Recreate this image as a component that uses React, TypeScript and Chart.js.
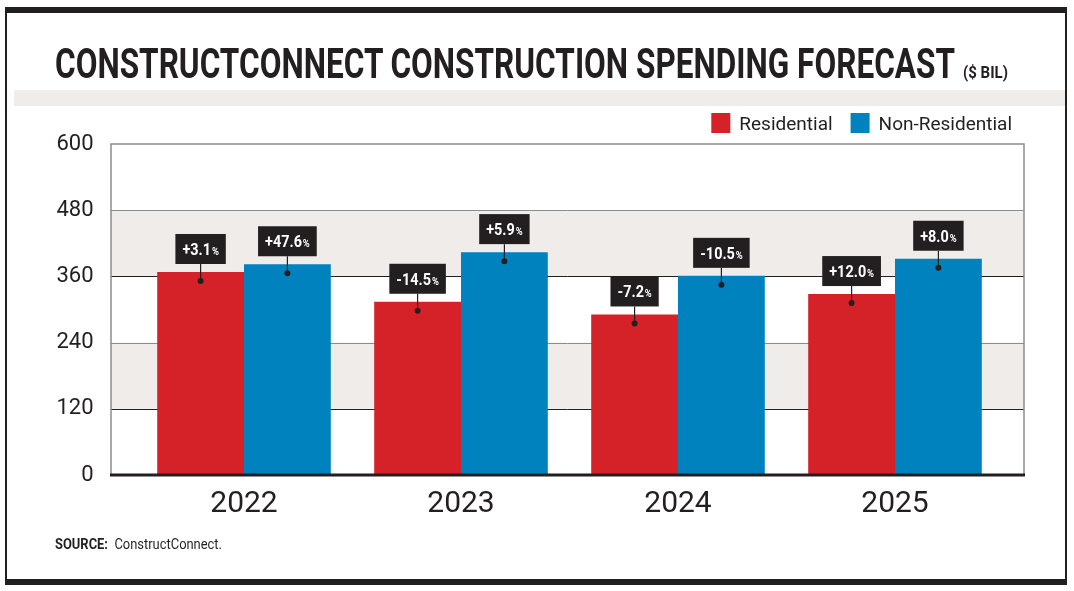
import React, { useEffect, useLayoutEffect, useRef } from "react";
import { Chart, registerables } from "chart.js";

Chart.register(...registerables);

// ---------- data ----------
const years = ["2022", "2023", "2024", "2025"];
const residential = [368, 314, 291, 328];
const nonResidential = [382, 404, 361, 392];
const residentialChange = ["+3.1", "-14.5", "-7.2", "+12.0"];
const nonResidentialChange = ["+47.6", "+5.9", "-10.5", "+8.0"];
const yTickValues = [0, 120, 240, 360, 480, 600];
const shadedBands: [number, number][] = [
  [360, 480],
  [120, 240],
];
const darkLines = [360, 120];
const lightLines = [480, 240];

const TITLE = "CONSTRUCTCONNECT CONSTRUCTION SPENDING FORECAST";
const UNIT = "($ BIL)";

// ---------- style ----------
const INK = "#231f20";
const RED = "#d52229";
const BLUE = "#0082be";
const BAND = "#efecea";
const FONT = "Roboto";

function FitText(props: {
  left: number;
  baseline: number;
  width: number;
  size: number;
  weight?: number;
  children: React.ReactNode;
}) {
  const ref = useRef<HTMLSpanElement>(null);
  useLayoutEffect(() => {
    const fit = () => {
      const el = ref.current;
      if (!el) return;
      el.style.transform = "none";
      const w = el.getBoundingClientRect().width;
      if (w > 0) el.style.transform = `scaleX(${props.width / w})`;
    };
    fit();
    const f: any = (document as any).fonts;
    if (f && f.ready) f.ready.then(fit);
  }, [props.width]);
  return (
    <span
      ref={ref}
      style={{
        position: "absolute",
        left: props.left,
        top: props.baseline - 0.842 * props.size,
        fontFamily: FONT,
        fontSize: props.size,
        fontWeight: props.weight ?? 400,
        lineHeight: `${props.size}px`,
        whiteSpace: "nowrap",
        transformOrigin: "left top",
        color: INK,
        display: "inline-block",
      }}
    >
      {props.children}
    </span>
  );
}

const frameLeftOffset = 24.5;
const frameRightOffset = 20.5;

const backgroundPlugin = {
  id: "bgBands",
  beforeDatasetsDraw(chart: any) {
    const { ctx, chartArea, scales } = chart;
    const y = scales.y;
    const L = chartArea.left - frameLeftOffset;
    const R = chartArea.right + frameRightOffset;
    ctx.save();
    ctx.fillStyle = BAND;
    shadedBands.forEach(([a, b]) => {
      const y1 = y.getPixelForValue(b);
      const y2 = y.getPixelForValue(a);
      ctx.fillRect(L, y1, R - L, y2 - y1);
    });
    ctx.lineWidth = 1;
    ctx.strokeStyle = "#8c8c8c";
    lightLines.forEach((v) => {
      const p = Math.round(y.getPixelForValue(v)) + 0.5;
      ctx.beginPath();
      ctx.moveTo(L, p);
      ctx.lineTo(R, p);
      ctx.stroke();
    });
    ctx.strokeStyle = INK;
    darkLines.forEach((v) => {
      const p = Math.round(y.getPixelForValue(v)) + 0.5;
      ctx.beginPath();
      ctx.moveTo(L, p);
      ctx.lineTo(R, p);
      ctx.stroke();
    });
    // frame
    ctx.strokeStyle = "#8c8c8c";
    ctx.lineWidth = 1.5;
    const top = y.getPixelForValue(600);
    const bot = y.getPixelForValue(0);
    ctx.strokeRect(L, top, R - L, bot - top);
    ctx.restore();
  },
  afterDatasetsDraw(chart: any) {
    const { ctx, chartArea, scales } = chart;
    const y = scales.y;
    const L = chartArea.left - frameLeftOffset;
    const R = chartArea.right + frameRightOffset;
    ctx.save();
    ctx.strokeStyle = INK;
    ctx.lineWidth = 3;
    const p = y.getPixelForValue(0);
    ctx.beginPath();
    ctx.moveTo(L - 1, p);
    ctx.lineTo(R + 1, p);
    ctx.stroke();
    ctx.restore();
  },
};

const annotationPlugin = {
  id: "changeLabels",
  afterDatasetsDraw(chart: any) {
    const ctx = chart.ctx;
    const sx = 0.85;
    const pad = 7;
    const boxH = 30;
    chart.data.datasets.forEach((ds: any, di: number) => {
      const meta = chart.getDatasetMeta(di);
      const labels = di === 0 ? residentialChange : nonResidentialChange;
      meta.data.forEach((el: any, i: number) => {
        const { x, y } = el.getProps(["x", "y"], true);
        const num = labels[i];
        ctx.save();
        ctx.font = `bold 17px ${FONT}`;
        const nw = ctx.measureText(num).width;
        ctx.font = `bold 11px ${FONT}`;
        const pw = ctx.measureText("%").width;
        const tw = (nw + pw + 1) * sx;
        const bw = tw + pad * 2;
        const boxBottom = y - 8;
        const boxTop = boxBottom - boxH;
        const dotY = y + 9;
        // connector
        ctx.strokeStyle = INK;
        ctx.lineWidth = 1.2;
        ctx.beginPath();
        ctx.moveTo(x, boxBottom);
        ctx.lineTo(x, dotY);
        ctx.stroke();
        ctx.fillStyle = INK;
        ctx.beginPath();
        ctx.arc(x, dotY, 3, 0, Math.PI * 2);
        ctx.fill();
        // box
        ctx.fillRect(x - bw / 2, boxTop, bw, boxH);
        // text
        ctx.fillStyle = "#ffffff";
        ctx.textBaseline = "alphabetic";
        ctx.textAlign = "left";
        ctx.translate(x - tw / 2, boxTop + 21);
        ctx.scale(sx, 1);
        ctx.font = `bold 17px ${FONT}`;
        ctx.fillText(num, 0, 0);
        ctx.font = `bold 11px ${FONT}`;
        ctx.fillText("%", nw + 1, 0);
        ctx.restore();
      });
    });
  },
};

const legendPlugin = {
  id: "customLegend",
  afterDraw(chart: any) {
    const { ctx, chartArea } = chart;
    const right = chartArea.right + 8.5;
    const box = 19;
    const gap = 9;
    const itemGap = 18;
    ctx.save();
    ctx.font = `19px ${FONT}`;
    const items = chart.data.datasets.map((d: any) => ({
      label: d.label,
      color: d.backgroundColor,
      w: ctx.measureText(d.label).width,
    }));
    const total =
      items.reduce((s: number, it: any) => s + box + gap + it.w, 0) +
      itemGap * (items.length - 1);
    let x = right - total;
    const boxTop = chartArea.top - 31;
    const baseline = chartArea.top - 14;
    items.forEach((it: any) => {
      ctx.fillStyle = it.color;
      ctx.fillRect(x, boxTop, box, 20);
      x += box + gap;
      ctx.fillStyle = INK;
      ctx.textBaseline = "alphabetic";
      ctx.textAlign = "left";
      ctx.fillText(it.label, x, baseline);
      x += it.w + itemGap;
    });
    ctx.restore();
  },
};

function BarChart() {
  const canvasRef = useRef<HTMLCanvasElement>(null);
  useEffect(() => {
    if (!canvasRef.current) return;
    const chart = new Chart(canvasRef.current, {
      type: "bar",
      data: {
        labels: years,
        datasets: [
          {
            label: "Residential",
            data: residential,
            backgroundColor: RED,
            borderWidth: 0,
            categoryPercentage: 0.8,
            barPercentage: 1.0,
          },
          {
            label: "Non-Residential",
            data: nonResidential,
            backgroundColor: BLUE,
            borderWidth: 0,
            categoryPercentage: 0.8,
            barPercentage: 1.0,
          },
        ],
      },
      options: {
        responsive: false,
        animation: false,
        devicePixelRatio: 1,
        layout: { padding: { left: 0, right: 70.5, top: 144, bottom: 56 } },
        plugins: {
          legend: { display: false },
          tooltip: { enabled: false },
          title: { display: false },
        },
        scales: {
          x: {
            grid: { display: false, drawTicks: false },
            border: { display: false },
            ticks: {
              color: INK,
              font: { family: FONT, size: 30 },
              padding: 11,
              maxRotation: 0,
            },
            afterFit: (s: any) => {
              s.height = 60;
            },
          },
          y: {
            min: 0,
            max: 600,
            grid: { display: false, drawTicks: false },
            border: { display: false },
            ticks: {
              color: INK,
              font: { family: FONT, size: 22 },
              padding: 42,
            },
            afterBuildTicks: (s: any) => {
              s.ticks = yTickValues.map((v) => ({ value: v }));
            },
            afterFit: (s: any) => {
              s.width = 135.5;
            },
          },
        },
      },
      plugins: [backgroundPlugin, annotationPlugin, legendPlugin],
    } as any);
    return () => chart.destroy();
  }, []);
  return (
    <canvas
      ref={canvasRef}
      width={1074}
      height={591}
      style={{ position: "absolute", left: 0, top: 0, width: 1074, height: 591 }}
    />
  );
}

export default function App() {
  return (
    <div
      style={{
        position: "absolute",
        left: 0,
        top: 0,
        width: 1074,
        height: 591,
        background: "#ffffff",
        overflow: "hidden",
      }}
    >
      {/* frame */}
      <div style={{ position: "absolute", left: 5, top: 7, width: 1062, height: 6, background: INK }} />
      <div style={{ position: "absolute", left: 5, top: 7, width: 2, height: 578, background: INK }} />
      <div style={{ position: "absolute", left: 1065, top: 7, width: 2, height: 578, background: INK }} />
      <div style={{ position: "absolute", left: 5, top: 579, width: 1062, height: 6, background: INK }} />
      <div style={{ position: "absolute", left: 14, top: 90, width: 1051, height: 16, background: BAND }} />
      <BarChart />
      <FitText left={55} baseline={78} width={900} size={42} weight={700}>
        {TITLE}
      </FitText>
      <FitText left={963} baseline={78} width={45} size={17} weight={700}>
        {UNIT}
      </FitText>
      <FitText left={55} baseline={549} width={167} size={14}>
        <span style={{ fontWeight: 700 }}>SOURCE:</span>
        <span style={{ marginLeft: 7 }}>ConstructConnect.</span>
      </FitText>
    </div>
  );
}
